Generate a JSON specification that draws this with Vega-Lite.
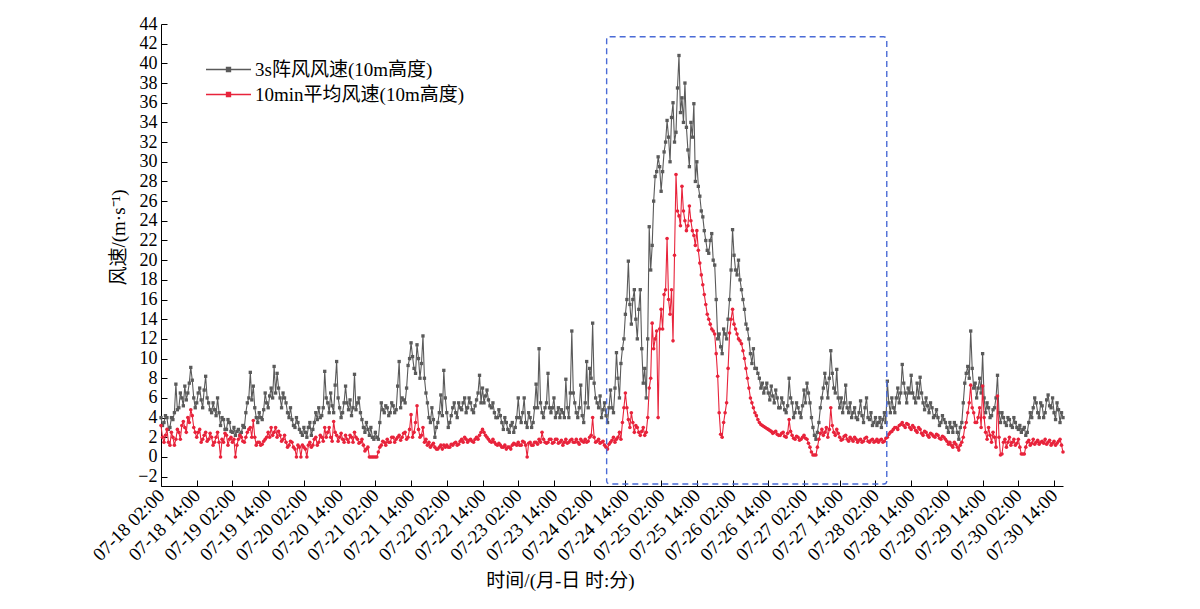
{
  "$schema": "https://vega.github.io/schema/vega-lite/v6.json",
  "width": 902,
  "height": 462,
  "autosize": "none",
  "padding": {"left": 161, "top": 24, "right": 137, "bottom": 123},
  "background": "white",
  "config": {
    "view": {"stroke": null},
    "font": "Liberation Serif, Noto Sans CJK SC",
    "axis": {"grid": false, "domainColor": "black", "tickColor": "black", "labelColor": "black", "titleColor": "black", "labelFont": "Liberation Serif, Noto Sans CJK SC", "titleFont": "Liberation Serif, Noto Sans CJK SC", "labelFontSize": 19, "titleFontSize": 19, "titleFontWeight": "normal", "domainWidth": 1, "tickWidth": 1, "labelOverlap": false, "labelFlush": false, "labelBound": false, "labelLimit": 0, "labelSeparation": 0},
    "axisY": {"labelOverlap": false, "labelFontSize": 18},
    "axisQuantitative": {"labelOverlap": false},
    "legend": {"labelFont": "Liberation Serif, Noto Sans CJK SC", "labelFontSize": 19, "labelColor": "black", "labelLimit": 0}
  },
  "datasets": {
    "ws": [
{"t":"2023-07-18T02:00","g":4.0,"m":3.2},{"t":"2023-07-18T03:00","g":3.5,"m":1.5},{"t":"2023-07-18T04:00","g":4.0,"m":2.8},{"t":"2023-07-18T05:00","g":3.0,"m":1.2},{"t":"2023-07-18T06:00","g":3.8,"m":2.0},{"t":"2023-07-18T07:00","g":7.4,"m":1.8},{"t":"2023-07-18T08:00","g":5.0,"m":2.5},{"t":"2023-07-18T09:00","g":6.0,"m":3.2},{"t":"2023-07-18T10:00","g":7.2,"m":3.0},{"t":"2023-07-18T11:00","g":6.5,"m":4.0},{"t":"2023-07-18T12:00","g":9.1,"m":4.8},{"t":"2023-07-18T13:00","g":6.0,"m":3.0},
{"t":"2023-07-18T14:00","g":5.5,"m":2.0},{"t":"2023-07-18T15:00","g":7.0,"m":2.8},{"t":"2023-07-18T16:00","g":5.0,"m":1.8},{"t":"2023-07-18T17:00","g":8.2,"m":2.5},{"t":"2023-07-18T18:00","g":5.5,"m":1.8},{"t":"2023-07-18T19:00","g":4.5,"m":2.0},{"t":"2023-07-18T20:00","g":4.8,"m":1.5},{"t":"2023-07-18T21:00","g":6.0,"m":2.5},{"t":"2023-07-18T22:00","g":3.2,"m":0.0},{"t":"2023-07-18T23:00","g":3.8,"m":1.5},
{"t":"2023-07-19T00:00","g":2.8,"m":2.2},{"t":"2023-07-19T01:00","g":3.5,"m":1.8},{"t":"2023-07-19T02:00","g":2.5,"m":1.5},{"t":"2023-07-19T03:00","g":2.2,"m":0.0},{"t":"2023-07-19T04:00","g":2.8,"m":1.8},{"t":"2023-07-19T05:00","g":2.5,"m":2.0},{"t":"2023-07-19T06:00","g":3.0,"m":1.5},{"t":"2023-07-19T07:00","g":5.5,"m":2.5},{"t":"2023-07-19T08:00","g":8.6,"m":3.0},{"t":"2023-07-19T09:00","g":7.2,"m":3.7},{"t":"2023-07-19T10:00","g":4.0,"m":1.2},{"t":"2023-07-19T11:00","g":4.5,"m":1.5},{"t":"2023-07-19T12:00","g":3.8,"m":1.3},{"t":"2023-07-19T13:00","g":6.5,"m":1.8},
{"t":"2023-07-19T14:00","g":5.0,"m":2.5},{"t":"2023-07-19T15:00","g":7.0,"m":3.0},{"t":"2023-07-19T16:00","g":9.2,"m":2.5},{"t":"2023-07-19T17:00","g":8.5,"m":2.0},{"t":"2023-07-19T18:00","g":6.0,"m":2.2},{"t":"2023-07-19T19:00","g":6.5,"m":1.8},{"t":"2023-07-19T20:00","g":5.5,"m":1.5},{"t":"2023-07-19T21:00","g":4.0,"m":1.2},{"t":"2023-07-19T22:00","g":3.8,"m":1.5},{"t":"2023-07-19T23:00","g":3.0,"m":0.8},
{"t":"2023-07-20T00:00","g":3.5,"m":1.2},{"t":"2023-07-20T01:00","g":2.5,"m":0.0},{"t":"2023-07-20T02:00","g":3.0,"m":1.0},{"t":"2023-07-20T03:00","g":2.0,"m":0.0},{"t":"2023-07-20T04:00","g":3.5,"m":1.5},{"t":"2023-07-20T05:00","g":2.8,"m":1.2},{"t":"2023-07-20T06:00","g":4.5,"m":2.0},{"t":"2023-07-20T07:00","g":5.0,"m":1.5},{"t":"2023-07-20T08:00","g":4.2,"m":2.0},{"t":"2023-07-20T09:00","g":8.7,"m":3.0},{"t":"2023-07-20T10:00","g":5.5,"m":2.5},{"t":"2023-07-20T11:00","g":6.5,"m":2.0},{"t":"2023-07-20T12:00","g":4.5,"m":3.6},{"t":"2023-07-20T13:00","g":9.7,"m":2.2},
{"t":"2023-07-20T14:00","g":5.0,"m":2.0},{"t":"2023-07-20T15:00","g":4.5,"m":1.8},{"t":"2023-07-20T16:00","g":7.2,"m":2.2},{"t":"2023-07-20T17:00","g":4.8,"m":1.5},{"t":"2023-07-20T18:00","g":4.2,"m":2.0},{"t":"2023-07-20T19:00","g":8.4,"m":2.5},{"t":"2023-07-20T20:00","g":5.5,"m":1.8},{"t":"2023-07-20T21:00","g":4.5,"m":1.5},{"t":"2023-07-20T22:00","g":3.0,"m":1.2},{"t":"2023-07-20T23:00","g":3.5,"m":0.8},
{"t":"2023-07-21T00:00","g":2.2,"m":0.0},{"t":"2023-07-21T01:00","g":2.0,"m":0.0},{"t":"2023-07-21T02:00","g":2.5,"m":0.0},{"t":"2023-07-21T03:00","g":1.8,"m":0.5},{"t":"2023-07-21T04:00","g":5.5,"m":1.2},{"t":"2023-07-21T05:00","g":4.5,"m":1.5},{"t":"2023-07-21T06:00","g":5.0,"m":1.8},{"t":"2023-07-21T07:00","g":4.5,"m":1.5},{"t":"2023-07-21T08:00","g":5.2,"m":2.0},{"t":"2023-07-21T09:00","g":4.8,"m":1.8},{"t":"2023-07-21T10:00","g":9.7,"m":2.2},{"t":"2023-07-21T11:00","g":6.0,"m":2.0},{"t":"2023-07-21T12:00","g":5.5,"m":2.5},{"t":"2023-07-21T13:00","g":9.3,"m":2.0},
{"t":"2023-07-21T14:00","g":11.6,"m":4.3},{"t":"2023-07-21T15:00","g":9.0,"m":2.5},{"t":"2023-07-21T16:00","g":11.4,"m":5.2},{"t":"2023-07-21T17:00","g":8.0,"m":2.0},{"t":"2023-07-21T18:00","g":12.3,"m":3.0},{"t":"2023-07-21T19:00","g":6.5,"m":1.8},{"t":"2023-07-21T20:00","g":4.0,"m":1.5},{"t":"2023-07-21T21:00","g":5.0,"m":1.2},{"t":"2023-07-21T22:00","g":2.0,"m":1.0},{"t":"2023-07-21T23:00","g":3.5,"m":0.8},
{"t":"2023-07-22T00:00","g":6.3,"m":1.2},{"t":"2023-07-22T01:00","g":8.8,"m":1.2},{"t":"2023-07-22T02:00","g":4.5,"m":1.2},{"t":"2023-07-22T03:00","g":3.5,"m":1.0},{"t":"2023-07-22T04:00","g":5.0,"m":1.2},{"t":"2023-07-22T05:00","g":4.5,"m":1.5},{"t":"2023-07-22T06:00","g":5.5,"m":1.3},{"t":"2023-07-22T07:00","g":4.8,"m":1.8},{"t":"2023-07-22T08:00","g":6.0,"m":2.0},{"t":"2023-07-22T09:00","g":5.0,"m":1.5},{"t":"2023-07-22T10:00","g":5.5,"m":1.8},{"t":"2023-07-22T11:00","g":4.5,"m":1.5},{"t":"2023-07-22T12:00","g":5.8,"m":2.0},{"t":"2023-07-22T13:00","g":8.3,"m":2.2},
{"t":"2023-07-22T14:00","g":7.0,"m":2.8},{"t":"2023-07-22T15:00","g":6.2,"m":2.2},{"t":"2023-07-22T16:00","g":5.8,"m":1.8},{"t":"2023-07-22T17:00","g":5.0,"m":1.5},{"t":"2023-07-22T18:00","g":4.5,"m":1.5},{"t":"2023-07-22T19:00","g":4.0,"m":1.2},{"t":"2023-07-22T20:00","g":4.2,"m":1.2},{"t":"2023-07-22T21:00","g":2.8,"m":1.0},{"t":"2023-07-22T22:00","g":3.5,"m":0.8},{"t":"2023-07-22T23:00","g":2.5,"m":1.0},
{"t":"2023-07-23T00:00","g":3.5,"m":1.2},{"t":"2023-07-23T01:00","g":3.0,"m":1.3},{"t":"2023-07-23T02:00","g":6.0,"m":1.5},{"t":"2023-07-23T03:00","g":3.5,"m":1.2},{"t":"2023-07-23T04:00","g":6.0,"m":1.5},{"t":"2023-07-23T05:00","g":3.0,"m":0.0},{"t":"2023-07-23T06:00","g":4.0,"m":1.5},{"t":"2023-07-23T07:00","g":3.5,"m":1.2},{"t":"2023-07-23T08:00","g":7.4,"m":1.5},{"t":"2023-07-23T09:00","g":11.0,"m":1.8},{"t":"2023-07-23T10:00","g":4.5,"m":2.5},{"t":"2023-07-23T11:00","g":5.0,"m":1.5},{"t":"2023-07-23T12:00","g":8.5,"m":1.5},{"t":"2023-07-23T13:00","g":4.5,"m":1.8},
{"t":"2023-07-23T14:00","g":6.0,"m":1.5},{"t":"2023-07-23T15:00","g":4.5,"m":1.8},{"t":"2023-07-23T16:00","g":4.0,"m":1.5},{"t":"2023-07-23T17:00","g":4.5,"m":1.2},{"t":"2023-07-23T18:00","g":7.9,"m":1.8},{"t":"2023-07-23T19:00","g":4.0,"m":1.5},{"t":"2023-07-23T20:00","g":12.8,"m":1.8},{"t":"2023-07-23T21:00","g":5.5,"m":1.5},{"t":"2023-07-23T22:00","g":4.0,"m":1.5},{"t":"2023-07-23T23:00","g":7.3,"m":1.8},
{"t":"2023-07-24T00:00","g":3.5,"m":1.5},{"t":"2023-07-24T01:00","g":9.7,"m":1.5},{"t":"2023-07-24T02:00","g":9.0,"m":2.0},{"t":"2023-07-24T03:00","g":13.6,"m":4.0},{"t":"2023-07-24T04:00","g":6.0,"m":1.5},{"t":"2023-07-24T05:00","g":5.0,"m":1.8},{"t":"2023-07-24T06:00","g":4.0,"m":1.5},{"t":"2023-07-24T07:00","g":5.5,"m":1.2},{"t":"2023-07-24T08:00","g":3.5,"m":0.8},{"t":"2023-07-24T09:00","g":6.8,"m":1.5},{"t":"2023-07-24T10:00","g":4.5,"m":2.0},{"t":"2023-07-24T11:00","g":10.6,"m":1.8},{"t":"2023-07-24T12:00","g":6.0,"m":2.5},{"t":"2023-07-24T13:00","g":11.0,"m":3.5},
{"t":"2023-07-24T14:00","g":14.5,"m":6.5},{"t":"2023-07-24T15:00","g":19.9,"m":3.8},{"t":"2023-07-24T16:00","g":13.5,"m":4.5},{"t":"2023-07-24T17:00","g":17.0,"m":2.5},{"t":"2023-07-24T18:00","g":12.0,"m":3.0},{"t":"2023-07-24T19:00","g":17.0,"m":2.2},{"t":"2023-07-24T20:00","g":7.5,"m":3.0},{"t":"2023-07-24T21:00","g":6.0,"m":2.5},{"t":"2023-07-24T22:00","g":23.4,"m":7.0},{"t":"2023-07-24T23:00","g":21.5,"m":13.6},
{"t":"2023-07-25T00:00","g":28.5,"m":12.0},{"t":"2023-07-25T01:00","g":30.5,"m":4.0},{"t":"2023-07-25T02:00","g":27.0,"m":15.0},{"t":"2023-07-25T03:00","g":31.0,"m":16.5},{"t":"2023-07-25T04:00","g":34.2,"m":22.2},{"t":"2023-07-25T05:00","g":30.0,"m":14.5},{"t":"2023-07-25T06:00","g":36.0,"m":11.8},{"t":"2023-07-25T07:00","g":33.0,"m":28.7},{"t":"2023-07-25T08:00","g":40.8,"m":24.5},{"t":"2023-07-25T09:00","g":36.5,"m":27.5},{"t":"2023-07-25T10:00","g":38.0,"m":24.0},{"t":"2023-07-25T11:00","g":31.2,"m":23.5},{"t":"2023-07-25T12:00","g":34.0,"m":24.0},{"t":"2023-07-25T13:00","g":35.9,"m":22.5},
{"t":"2023-07-25T14:00","g":30.0,"m":23.0},{"t":"2023-07-25T15:00","g":26.5,"m":19.7},{"t":"2023-07-25T16:00","g":24.4,"m":17.5},{"t":"2023-07-25T17:00","g":22.0,"m":15.5},{"t":"2023-07-25T18:00","g":20.7,"m":14.0},{"t":"2023-07-25T19:00","g":22.7,"m":13.0},{"t":"2023-07-25T20:00","g":19.5,"m":12.5},{"t":"2023-07-25T21:00","g":12.0,"m":8.2},{"t":"2023-07-25T22:00","g":11.2,"m":2.3},{"t":"2023-07-25T23:00","g":13.0,"m":3.5},
{"t":"2023-07-26T00:00","g":12.0,"m":5.5},{"t":"2023-07-26T01:00","g":16.0,"m":12.6},{"t":"2023-07-26T02:00","g":23.1,"m":15.0},{"t":"2023-07-26T03:00","g":19.0,"m":13.0},{"t":"2023-07-26T04:00","g":20.0,"m":12.0},{"t":"2023-07-26T05:00","g":17.0,"m":11.5},{"t":"2023-07-26T06:00","g":15.0,"m":10.0},{"t":"2023-07-26T07:00","g":13.0,"m":8.0},{"t":"2023-07-26T08:00","g":10.5,"m":6.0},{"t":"2023-07-26T09:00","g":11.0,"m":5.0},{"t":"2023-07-26T10:00","g":9.0,"m":4.2},{"t":"2023-07-26T11:00","g":8.0,"m":3.5},{"t":"2023-07-26T12:00","g":7.5,"m":3.2},{"t":"2023-07-26T13:00","g":7.0,"m":3.0},
{"t":"2023-07-26T14:00","g":6.5,"m":2.8},{"t":"2023-07-26T15:00","g":7.2,"m":2.6},{"t":"2023-07-26T16:00","g":5.5,"m":2.5},{"t":"2023-07-26T17:00","g":6.0,"m":2.3},{"t":"2023-07-26T18:00","g":5.0,"m":2.2},{"t":"2023-07-26T19:00","g":5.5,"m":2.5},{"t":"2023-07-26T20:00","g":4.5,"m":2.0},{"t":"2023-07-26T21:00","g":8.0,"m":3.8},{"t":"2023-07-26T22:00","g":5.5,"m":2.2},{"t":"2023-07-26T23:00","g":4.5,"m":1.8},
{"t":"2023-07-27T00:00","g":5.0,"m":2.0},{"t":"2023-07-27T01:00","g":4.0,"m":1.8},{"t":"2023-07-27T02:00","g":6.8,"m":2.2},{"t":"2023-07-27T03:00","g":7.5,"m":1.8},{"t":"2023-07-27T04:00","g":5.5,"m":1.0},{"t":"2023-07-27T05:00","g":3.0,"m":0.2},{"t":"2023-07-27T06:00","g":1.8,"m":0.2},{"t":"2023-07-27T07:00","g":3.5,"m":1.8},{"t":"2023-07-27T08:00","g":6.0,"m":2.8},{"t":"2023-07-27T09:00","g":8.5,"m":2.5},{"t":"2023-07-27T10:00","g":6.0,"m":2.0},{"t":"2023-07-27T11:00","g":10.8,"m":5.0},{"t":"2023-07-27T12:00","g":7.0,"m":2.5},{"t":"2023-07-27T13:00","g":8.9,"m":2.8},
{"t":"2023-07-27T14:00","g":5.0,"m":2.0},{"t":"2023-07-27T15:00","g":4.5,"m":1.8},{"t":"2023-07-27T16:00","g":7.3,"m":2.2},{"t":"2023-07-27T17:00","g":4.5,"m":1.6},{"t":"2023-07-27T18:00","g":4.0,"m":1.8},{"t":"2023-07-27T19:00","g":5.0,"m":2.0},{"t":"2023-07-27T20:00","g":3.8,"m":1.5},{"t":"2023-07-27T21:00","g":5.7,"m":1.8},{"t":"2023-07-27T22:00","g":3.5,"m":1.6},{"t":"2023-07-27T23:00","g":6.0,"m":2.0},
{"t":"2023-07-28T00:00","g":3.8,"m":1.5},{"t":"2023-07-28T01:00","g":3.2,"m":1.8},{"t":"2023-07-28T02:00","g":4.0,"m":1.6},{"t":"2023-07-28T03:00","g":3.5,"m":1.5},{"t":"2023-07-28T04:00","g":3.0,"m":1.8},{"t":"2023-07-28T05:00","g":4.5,"m":1.6},{"t":"2023-07-28T06:00","g":7.7,"m":2.0},{"t":"2023-07-28T07:00","g":4.5,"m":2.5},{"t":"2023-07-28T08:00","g":5.0,"m":2.8},{"t":"2023-07-28T09:00","g":6.0,"m":3.0},{"t":"2023-07-28T10:00","g":5.5,"m":3.2},{"t":"2023-07-28T11:00","g":9.4,"m":3.5},{"t":"2023-07-28T12:00","g":6.5,"m":3.0},{"t":"2023-07-28T13:00","g":7.0,"m":3.3},
{"t":"2023-07-28T14:00","g":8.3,"m":2.8},{"t":"2023-07-28T15:00","g":6.0,"m":3.0},{"t":"2023-07-28T16:00","g":7.5,"m":2.5},{"t":"2023-07-28T17:00","g":8.1,"m":2.8},{"t":"2023-07-28T18:00","g":5.5,"m":2.2},{"t":"2023-07-28T19:00","g":6.0,"m":2.5},{"t":"2023-07-28T20:00","g":4.5,"m":2.0},{"t":"2023-07-28T21:00","g":5.0,"m":2.3},{"t":"2023-07-28T22:00","g":4.2,"m":2.0},{"t":"2023-07-28T23:00","g":4.0,"m":2.2},
{"t":"2023-07-29T00:00","g":3.5,"m":1.8},{"t":"2023-07-29T01:00","g":3.8,"m":2.0},{"t":"2023-07-29T02:00","g":3.0,"m":1.6},{"t":"2023-07-29T03:00","g":3.5,"m":1.5},{"t":"2023-07-29T04:00","g":2.5,"m":1.0},{"t":"2023-07-29T05:00","g":3.2,"m":1.3},{"t":"2023-07-29T06:00","g":1.8,"m":0.7},{"t":"2023-07-29T07:00","g":3.5,"m":1.5},{"t":"2023-07-29T08:00","g":7.5,"m":3.0},{"t":"2023-07-29T09:00","g":9.2,"m":4.5},{"t":"2023-07-29T10:00","g":12.8,"m":7.3},{"t":"2023-07-29T11:00","g":7.0,"m":4.5},{"t":"2023-07-29T12:00","g":6.0,"m":3.5},{"t":"2023-07-29T13:00","g":8.0,"m":5.0},
{"t":"2023-07-29T14:00","g":10.5,"m":7.2},{"t":"2023-07-29T15:00","g":4.5,"m":2.5},{"t":"2023-07-29T16:00","g":5.0,"m":3.0},{"t":"2023-07-29T17:00","g":4.2,"m":1.5},{"t":"2023-07-29T18:00","g":5.0,"m":2.0},{"t":"2023-07-29T19:00","g":8.3,"m":6.2},{"t":"2023-07-29T20:00","g":3.5,"m":0.2},{"t":"2023-07-29T21:00","g":4.0,"m":1.5},{"t":"2023-07-29T22:00","g":3.2,"m":1.0},{"t":"2023-07-29T23:00","g":3.8,"m":2.0},
{"t":"2023-07-30T00:00","g":3.0,"m":1.5},{"t":"2023-07-30T01:00","g":3.5,"m":1.2},{"t":"2023-07-30T02:00","g":2.8,"m":1.8},{"t":"2023-07-30T03:00","g":2.5,"m":0.3},{"t":"2023-07-30T04:00","g":3.0,"m":0.3},{"t":"2023-07-30T05:00","g":2.5,"m":1.5},{"t":"2023-07-30T06:00","g":4.5,"m":1.2},{"t":"2023-07-30T07:00","g":5.0,"m":1.8},{"t":"2023-07-30T08:00","g":5.5,"m":1.5},{"t":"2023-07-30T09:00","g":4.0,"m":1.3},{"t":"2023-07-30T10:00","g":5.2,"m":1.6},{"t":"2023-07-30T11:00","g":4.5,"m":1.8},{"t":"2023-07-30T12:00","g":6.3,"m":1.5},{"t":"2023-07-30T13:00","g":5.0,"m":1.2},
{"t":"2023-07-30T14:00","g":4.5,"m":1.6},{"t":"2023-07-30T15:00","g":5.5,"m":1.4},{"t":"2023-07-30T16:00","g":3.5,"m":1.8},{"t":"2023-07-30T17:00","g":4.0,"m":0.5},
{"t":"2023-07-18T02:30","g":3.2,"m":2.0},{"t":"2023-07-18T03:30","g":4.2,"m":2.2},{"t":"2023-07-18T04:30","g":2.8,"m":1.5},{"t":"2023-07-18T05:30","g":4.0,"m":2.5},{"t":"2023-07-18T06:30","g":4.5,"m":1.2},{"t":"2023-07-18T07:30","g":4.8,"m":2.8},{"t":"2023-07-18T08:30","g":6.5,"m":1.8},{"t":"2023-07-18T09:30","g":5.2,"m":3.6},{"t":"2023-07-18T10:30","g":5.8,"m":2.5},{"t":"2023-07-18T11:30","g":7.5,"m":3.5},{"t":"2023-07-18T12:30","g":7.8,"m":4.2},{"t":"2023-07-18T13:30","g":5.0,"m":2.5},
{"t":"2023-07-18T14:30","g":6.5,"m":2.5},{"t":"2023-07-18T15:30","g":5.8,"m":1.5},{"t":"2023-07-18T16:30","g":6.8,"m":2.2},{"t":"2023-07-18T17:30","g":6.0,"m":1.6},{"t":"2023-07-18T18:30","g":4.8,"m":2.4},{"t":"2023-07-18T19:30","g":5.5,"m":1.2},{"t":"2023-07-18T20:30","g":4.2,"m":2.0},{"t":"2023-07-18T21:30","g":4.5,"m":1.5},{"t":"2023-07-18T22:30","g":4.0,"m":1.8},{"t":"2023-07-18T23:30","g":2.8,"m":2.4},
{"t":"2023-07-19T00:30","g":3.8,"m":1.2},{"t":"2023-07-19T01:30","g":2.6,"m":2.0},{"t":"2023-07-19T02:30","g":3.0,"m":1.8},{"t":"2023-07-19T03:30","g":2.6,"m":1.2},{"t":"2023-07-19T04:30","g":2.2,"m":2.2},{"t":"2023-07-19T05:30","g":3.2,"m":1.6},{"t":"2023-07-19T06:30","g":4.5,"m":2.0},{"t":"2023-07-19T07:30","g":6.0,"m":2.8},{"t":"2023-07-19T08:30","g":5.8,"m":2.0},{"t":"2023-07-19T09:30","g":5.0,"m":2.0},{"t":"2023-07-19T10:30","g":3.5,"m":1.5},{"t":"2023-07-19T11:30","g":4.0,"m":1.2},{"t":"2023-07-19T12:30","g":4.8,"m":1.6},{"t":"2023-07-19T13:30","g":5.5,"m":2.0},
{"t":"2023-07-19T14:30","g":6.2,"m":2.0},{"t":"2023-07-19T15:30","g":6.0,"m":2.2},{"t":"2023-07-19T16:30","g":6.5,"m":3.0},{"t":"2023-07-19T17:30","g":7.0,"m":2.6},{"t":"2023-07-19T18:30","g":5.0,"m":1.6},{"t":"2023-07-19T19:30","g":6.0,"m":2.2},{"t":"2023-07-19T20:30","g":4.5,"m":1.0},{"t":"2023-07-19T21:30","g":5.0,"m":1.6},{"t":"2023-07-19T22:30","g":3.2,"m":1.0},{"t":"2023-07-19T23:30","g":4.0,"m":0.0},
{"t":"2023-07-20T00:30","g":2.8,"m":1.0},{"t":"2023-07-20T01:30","g":2.2,"m":1.2},{"t":"2023-07-20T02:30","g":2.5,"m":0.8},{"t":"2023-07-20T03:30","g":3.0,"m":1.2},{"t":"2023-07-20T04:30","g":2.2,"m":1.0},{"t":"2023-07-20T05:30","g":3.5,"m":1.8},{"t":"2023-07-20T06:30","g":3.8,"m":1.2},{"t":"2023-07-20T07:30","g":4.0,"m":2.2},{"t":"2023-07-20T08:30","g":5.0,"m":1.6},{"t":"2023-07-20T09:30","g":6.0,"m":2.0},{"t":"2023-07-20T10:30","g":4.5,"m":3.0},{"t":"2023-07-20T11:30","g":5.2,"m":1.6},{"t":"2023-07-20T12:30","g":7.3,"m":2.5},{"t":"2023-07-20T13:30","g":6.0,"m":1.6},
{"t":"2023-07-20T14:30","g":4.0,"m":2.4},{"t":"2023-07-20T15:30","g":5.5,"m":1.5},{"t":"2023-07-20T16:30","g":5.5,"m":1.8},{"t":"2023-07-20T17:30","g":5.8,"m":2.2},{"t":"2023-07-20T18:30","g":5.0,"m":1.5},{"t":"2023-07-20T19:30","g":4.8,"m":2.0},{"t":"2023-07-20T20:30","g":6.0,"m":1.4},{"t":"2023-07-20T21:30","g":3.8,"m":1.8},{"t":"2023-07-20T22:30","g":2.5,"m":0.6},{"t":"2023-07-20T23:30","g":2.8,"m":1.0},
{"t":"2023-07-21T00:30","g":3.0,"m":0.0},{"t":"2023-07-21T01:30","g":1.8,"m":0.0},{"t":"2023-07-21T02:30","g":2.0,"m":0.0},{"t":"2023-07-21T03:30","g":3.5,"m":1.0},{"t":"2023-07-21T04:30","g":4.8,"m":1.6},{"t":"2023-07-21T05:30","g":5.2,"m":1.2},{"t":"2023-07-21T06:30","g":4.2,"m":1.5},{"t":"2023-07-21T07:30","g":5.5,"m":2.0},{"t":"2023-07-21T08:30","g":4.5,"m":1.5},{"t":"2023-07-21T09:30","g":7.2,"m":2.0},{"t":"2023-07-21T10:30","g":5.0,"m":1.7},{"t":"2023-07-21T11:30","g":5.8,"m":2.4},{"t":"2023-07-21T12:30","g":7.0,"m":1.8},{"t":"2023-07-21T13:30","g":10.0,"m":2.8},
{"t":"2023-07-21T14:30","g":10.2,"m":2.0},{"t":"2023-07-21T15:30","g":8.5,"m":3.5},{"t":"2023-07-21T16:30","g":10.0,"m":2.8},{"t":"2023-07-21T17:30","g":9.5,"m":2.2},{"t":"2023-07-21T18:30","g":8.0,"m":1.5},{"t":"2023-07-21T19:30","g":5.5,"m":1.2},{"t":"2023-07-21T20:30","g":3.5,"m":1.0},{"t":"2023-07-21T21:30","g":3.8,"m":1.4},{"t":"2023-07-21T22:30","g":3.0,"m":0.8},{"t":"2023-07-21T23:30","g":4.5,"m":1.0},
{"t":"2023-07-22T00:30","g":4.2,"m":0.8},{"t":"2023-07-22T01:30","g":6.0,"m":1.0},{"t":"2023-07-22T02:30","g":3.0,"m":1.0},{"t":"2023-07-22T03:30","g":4.2,"m":1.3},{"t":"2023-07-22T04:30","g":5.5,"m":1.4},{"t":"2023-07-22T05:30","g":4.0,"m":1.2},{"t":"2023-07-22T06:30","g":5.0,"m":1.6},{"t":"2023-07-22T07:30","g":5.5,"m":1.5},{"t":"2023-07-22T08:30","g":4.5,"m":1.8},{"t":"2023-07-22T09:30","g":6.0,"m":1.7},{"t":"2023-07-22T10:30","g":4.8,"m":1.6},{"t":"2023-07-22T11:30","g":5.2,"m":1.8},{"t":"2023-07-22T12:30","g":6.5,"m":1.8},{"t":"2023-07-22T13:30","g":5.5,"m":2.5},
{"t":"2023-07-22T14:30","g":5.5,"m":2.5},{"t":"2023-07-22T15:30","g":6.8,"m":2.0},{"t":"2023-07-22T16:30","g":5.2,"m":1.6},{"t":"2023-07-22T17:30","g":5.5,"m":1.8},{"t":"2023-07-22T18:30","g":4.0,"m":1.3},{"t":"2023-07-22T19:30","g":4.8,"m":1.4},{"t":"2023-07-22T20:30","g":3.5,"m":1.0},{"t":"2023-07-22T21:30","g":4.0,"m":1.2},{"t":"2023-07-22T22:30","g":2.8,"m":1.0},{"t":"2023-07-22T23:30","g":3.2,"m":0.8},
{"t":"2023-07-23T00:30","g":2.5,"m":1.4},{"t":"2023-07-23T01:30","g":4.0,"m":1.2},{"t":"2023-07-23T02:30","g":4.0,"m":1.2},{"t":"2023-07-23T03:30","g":4.5,"m":1.6},{"t":"2023-07-23T04:30","g":3.5,"m":1.2},{"t":"2023-07-23T05:30","g":4.5,"m":1.4},{"t":"2023-07-23T06:30","g":3.0,"m":1.2},{"t":"2023-07-23T07:30","g":5.0,"m":1.5},{"t":"2023-07-23T08:30","g":5.0,"m":1.3},{"t":"2023-07-23T09:30","g":5.5,"m":1.5},{"t":"2023-07-23T10:30","g":4.0,"m":1.8},{"t":"2023-07-23T11:30","g":5.5,"m":1.4},{"t":"2023-07-23T12:30","g":5.0,"m":1.8},{"t":"2023-07-23T13:30","g":5.0,"m":1.4},
{"t":"2023-07-23T14:30","g":4.0,"m":1.8},{"t":"2023-07-23T15:30","g":5.0,"m":1.4},{"t":"2023-07-23T16:30","g":4.8,"m":1.7},{"t":"2023-07-23T17:30","g":4.0,"m":1.5},{"t":"2023-07-23T18:30","g":5.0,"m":1.4},{"t":"2023-07-23T19:30","g":6.5,"m":1.7},{"t":"2023-07-23T20:30","g":6.5,"m":1.5},{"t":"2023-07-23T21:30","g":4.5,"m":1.8},{"t":"2023-07-23T22:30","g":5.0,"m":1.3},{"t":"2023-07-23T23:30","g":4.2,"m":1.6},
{"t":"2023-07-24T00:30","g":5.5,"m":1.8},{"t":"2023-07-24T01:30","g":5.0,"m":1.6},{"t":"2023-07-24T02:30","g":8.0,"m":2.2},{"t":"2023-07-24T03:30","g":7.5,"m":2.0},{"t":"2023-07-24T04:30","g":5.5,"m":1.6},{"t":"2023-07-24T05:30","g":6.2,"m":1.4},{"t":"2023-07-24T06:30","g":4.8,"m":1.6},{"t":"2023-07-24T07:30","g":4.2,"m":1.0},{"t":"2023-07-24T08:30","g":5.0,"m":1.3},{"t":"2023-07-24T09:30","g":5.0,"m":1.7},{"t":"2023-07-24T10:30","g":7.0,"m":1.5},{"t":"2023-07-24T11:30","g":8.0,"m":2.0},{"t":"2023-07-24T12:30","g":9.5,"m":1.8},{"t":"2023-07-24T13:30","g":12.0,"m":5.0},
{"t":"2023-07-24T14:30","g":16.0,"m":5.0},{"t":"2023-07-24T15:30","g":15.5,"m":3.0},{"t":"2023-07-24T16:30","g":16.0,"m":3.5},{"t":"2023-07-24T17:30","g":14.0,"m":3.2},{"t":"2023-07-24T18:30","g":15.0,"m":2.5},{"t":"2023-07-24T19:30","g":11.0,"m":2.6},{"t":"2023-07-24T20:30","g":9.0,"m":2.2},{"t":"2023-07-24T21:30","g":12.0,"m":4.0},{"t":"2023-07-24T22:30","g":19.0,"m":8.0},{"t":"2023-07-24T23:30","g":26.0,"m":11.0},
{"t":"2023-07-25T00:30","g":29.0,"m":12.8},{"t":"2023-07-25T01:30","g":29.5,"m":13.0},{"t":"2023-07-25T02:30","g":29.0,"m":13.0},{"t":"2023-07-25T03:30","g":32.0,"m":17.0},{"t":"2023-07-25T04:30","g":32.5,"m":16.0},{"t":"2023-07-25T05:30","g":34.5,"m":17.0},{"t":"2023-07-25T06:30","g":32.0,"m":20.5},{"t":"2023-07-25T07:30","g":37.5,"m":25.0},{"t":"2023-07-25T08:30","g":35.0,"m":23.5},{"t":"2023-07-25T09:30","g":34.0,"m":25.0},{"t":"2023-07-25T10:30","g":33.5,"m":23.0},{"t":"2023-07-25T11:30","g":29.5,"m":25.5},{"t":"2023-07-25T12:30","g":32.5,"m":23.0},{"t":"2023-07-25T13:30","g":28.0,"m":21.5},
{"t":"2023-07-25T14:30","g":27.5,"m":21.0},{"t":"2023-07-25T15:30","g":25.0,"m":18.5},{"t":"2023-07-25T16:30","g":23.0,"m":16.5},{"t":"2023-07-25T17:30","g":21.0,"m":14.5},{"t":"2023-07-25T18:30","g":22.0,"m":13.5},{"t":"2023-07-25T19:30","g":20.0,"m":12.8},{"t":"2023-07-25T20:30","g":16.0,"m":10.5},{"t":"2023-07-25T21:30","g":12.5,"m":4.5},{"t":"2023-07-25T22:30","g":10.5,"m":2.0},{"t":"2023-07-25T23:30","g":12.5,"m":4.5},
{"t":"2023-07-26T00:30","g":14.0,"m":9.0},{"t":"2023-07-26T01:30","g":19.0,"m":14.0},{"t":"2023-07-26T02:30","g":20.5,"m":13.5},{"t":"2023-07-26T03:30","g":18.5,"m":12.5},{"t":"2023-07-26T04:30","g":18.0,"m":11.8},{"t":"2023-07-26T05:30","g":16.0,"m":10.8},{"t":"2023-07-26T06:30","g":13.5,"m":9.0},{"t":"2023-07-26T07:30","g":12.0,"m":7.0},{"t":"2023-07-26T08:30","g":9.5,"m":5.5},{"t":"2023-07-26T09:30","g":9.0,"m":4.5},{"t":"2023-07-26T10:30","g":8.5,"m":3.8},{"t":"2023-07-26T11:30","g":7.0,"m":3.3},{"t":"2023-07-26T12:30","g":6.5,"m":3.1},{"t":"2023-07-26T13:30","g":7.5,"m":2.9},
{"t":"2023-07-26T14:30","g":5.8,"m":2.7},{"t":"2023-07-26T15:30","g":6.2,"m":2.4},{"t":"2023-07-26T16:30","g":6.8,"m":2.6},{"t":"2023-07-26T17:30","g":5.0,"m":2.2},{"t":"2023-07-26T18:30","g":6.0,"m":2.4},{"t":"2023-07-26T19:30","g":4.8,"m":2.1},{"t":"2023-07-26T20:30","g":5.2,"m":2.4},{"t":"2023-07-26T21:30","g":6.0,"m":2.6},{"t":"2023-07-26T22:30","g":4.0,"m":1.9},{"t":"2023-07-26T23:30","g":5.5,"m":2.1},
{"t":"2023-07-27T00:30","g":4.5,"m":1.7},{"t":"2023-07-27T01:30","g":5.2,"m":2.0},{"t":"2023-07-27T02:30","g":5.5,"m":1.9},{"t":"2023-07-27T03:30","g":6.5,"m":1.4},{"t":"2023-07-27T04:30","g":4.0,"m":0.5},{"t":"2023-07-27T05:30","g":2.2,"m":0.2},{"t":"2023-07-27T06:30","g":2.5,"m":1.0},{"t":"2023-07-27T07:30","g":5.0,"m":2.4},{"t":"2023-07-27T08:30","g":7.0,"m":2.2},{"t":"2023-07-27T09:30","g":7.5,"m":3.0},{"t":"2023-07-27T10:30","g":8.0,"m":2.8},{"t":"2023-07-27T11:30","g":8.5,"m":3.2},{"t":"2023-07-27T12:30","g":6.5,"m":2.2},{"t":"2023-07-27T13:30","g":6.0,"m":2.4},
{"t":"2023-07-27T14:30","g":6.0,"m":1.7},{"t":"2023-07-27T15:30","g":5.5,"m":2.1},{"t":"2023-07-27T16:30","g":5.0,"m":1.8},{"t":"2023-07-27T17:30","g":5.5,"m":2.0},{"t":"2023-07-27T18:30","g":4.5,"m":1.6},{"t":"2023-07-27T19:30","g":4.0,"m":1.8},{"t":"2023-07-27T20:30","g":4.5,"m":1.7},{"t":"2023-07-27T21:30","g":4.2,"m":1.5},{"t":"2023-07-27T22:30","g":5.0,"m":1.9},{"t":"2023-07-27T23:30","g":4.0,"m":1.6},
{"t":"2023-07-28T00:30","g":4.5,"m":1.7},{"t":"2023-07-28T01:30","g":3.5,"m":1.5},{"t":"2023-07-28T02:30","g":3.2,"m":1.8},{"t":"2023-07-28T03:30","g":4.0,"m":1.7},{"t":"2023-07-28T04:30","g":3.8,"m":1.5},{"t":"2023-07-28T05:30","g":3.5,"m":1.9},{"t":"2023-07-28T06:30","g":5.5,"m":2.3},{"t":"2023-07-28T07:30","g":6.0,"m":2.6},{"t":"2023-07-28T08:30","g":4.5,"m":3.0},{"t":"2023-07-28T09:30","g":7.0,"m":2.8},{"t":"2023-07-28T10:30","g":6.5,"m":3.3},{"t":"2023-07-28T11:30","g":7.5,"m":3.2},{"t":"2023-07-28T12:30","g":5.5,"m":3.4},{"t":"2023-07-28T13:30","g":6.5,"m":3.0},
{"t":"2023-07-28T14:30","g":6.5,"m":3.2},{"t":"2023-07-28T15:30","g":5.5,"m":2.7},{"t":"2023-07-28T16:30","g":6.0,"m":3.0},{"t":"2023-07-28T17:30","g":6.5,"m":2.4},{"t":"2023-07-28T18:30","g":4.8,"m":2.6},{"t":"2023-07-28T19:30","g":5.2,"m":2.2},{"t":"2023-07-28T20:30","g":5.5,"m":2.4},{"t":"2023-07-28T21:30","g":4.0,"m":2.1},{"t":"2023-07-28T22:30","g":4.8,"m":2.3},{"t":"2023-07-28T23:30","g":3.2,"m":1.9},
{"t":"2023-07-29T00:30","g":4.2,"m":2.1},{"t":"2023-07-29T01:30","g":3.5,"m":1.8},{"t":"2023-07-29T02:30","g":2.5,"m":1.3},{"t":"2023-07-29T03:30","g":3.0,"m":1.2},{"t":"2023-07-29T04:30","g":3.5,"m":1.5},{"t":"2023-07-29T05:30","g":2.5,"m":1.0},{"t":"2023-07-29T06:30","g":3.0,"m":1.2},{"t":"2023-07-29T07:30","g":5.5,"m":2.0},{"t":"2023-07-29T08:30","g":8.5,"m":3.5},{"t":"2023-07-29T09:30","g":8.0,"m":5.5},{"t":"2023-07-29T10:30","g":9.0,"m":5.0},{"t":"2023-07-29T11:30","g":7.5,"m":3.5},{"t":"2023-07-29T12:30","g":7.0,"m":4.0},{"t":"2023-07-29T13:30","g":6.5,"m":3.0},
{"t":"2023-07-29T14:30","g":6.0,"m":4.0},{"t":"2023-07-29T15:30","g":5.5,"m":1.8},{"t":"2023-07-29T16:30","g":4.0,"m":2.2},{"t":"2023-07-29T17:30","g":4.8,"m":2.5},{"t":"2023-07-29T18:30","g":6.0,"m":1.0},{"t":"2023-07-29T19:30","g":4.5,"m":2.0},{"t":"2023-07-29T20:30","g":4.5,"m":0.3},{"t":"2023-07-29T21:30","g":3.5,"m":1.8},{"t":"2023-07-29T22:30","g":4.0,"m":1.5},{"t":"2023-07-29T23:30","g":3.2,"m":1.2},
{"t":"2023-07-30T00:30","g":4.0,"m":1.8},{"t":"2023-07-30T01:30","g":3.0,"m":1.4},{"t":"2023-07-30T02:30","g":3.2,"m":1.0},{"t":"2023-07-30T03:30","g":2.8,"m":0.3},{"t":"2023-07-30T04:30","g":2.2,"m":1.0},{"t":"2023-07-30T05:30","g":3.5,"m":1.7},{"t":"2023-07-30T06:30","g":4.0,"m":1.4},{"t":"2023-07-30T07:30","g":6.0,"m":1.3},{"t":"2023-07-30T08:30","g":4.5,"m":1.7},{"t":"2023-07-30T09:30","g":5.5,"m":1.5},{"t":"2023-07-30T10:30","g":4.0,"m":1.4},{"t":"2023-07-30T11:30","g":5.8,"m":1.3},{"t":"2023-07-30T12:30","g":5.2,"m":1.7},{"t":"2023-07-30T13:30","g":6.0,"m":1.4},
{"t":"2023-07-30T14:30","g":3.8,"m":1.2},{"t":"2023-07-30T15:30","g":4.8,"m":1.6},{"t":"2023-07-30T16:30","g":4.5,"m":1.2}
    ],
    "box": [{"x1":"2023-07-24T07:42","x2":"2023-07-28T05:48","y1":-2.75,"y2":42.7}]
  },
  "data": {"name": "ws"},
  "encoding": {
    "x": {
      "field": "t", "type": "temporal",
      "scale": {"domain": [{"year":2023,"month":7,"date":18,"hours":2}, {"year":2023,"month":7,"date":30,"hours":17}], "nice": false},
      "axis": {
        "values": [
          {"year":2023,"month":7,"date":18,"hours":2},{"year":2023,"month":7,"date":18,"hours":14},
          {"year":2023,"month":7,"date":19,"hours":2},{"year":2023,"month":7,"date":19,"hours":14},
          {"year":2023,"month":7,"date":20,"hours":2},{"year":2023,"month":7,"date":20,"hours":14},
          {"year":2023,"month":7,"date":21,"hours":2},{"year":2023,"month":7,"date":21,"hours":14},
          {"year":2023,"month":7,"date":22,"hours":2},{"year":2023,"month":7,"date":22,"hours":14},
          {"year":2023,"month":7,"date":23,"hours":2},{"year":2023,"month":7,"date":23,"hours":14},
          {"year":2023,"month":7,"date":24,"hours":2},{"year":2023,"month":7,"date":24,"hours":14},
          {"year":2023,"month":7,"date":25,"hours":2},{"year":2023,"month":7,"date":25,"hours":14},
          {"year":2023,"month":7,"date":26,"hours":2},{"year":2023,"month":7,"date":26,"hours":14},
          {"year":2023,"month":7,"date":27,"hours":2},{"year":2023,"month":7,"date":27,"hours":14},
          {"year":2023,"month":7,"date":28,"hours":2},{"year":2023,"month":7,"date":28,"hours":14},
          {"year":2023,"month":7,"date":29,"hours":2},{"year":2023,"month":7,"date":29,"hours":14},
          {"year":2023,"month":7,"date":30,"hours":2},{"year":2023,"month":7,"date":30,"hours":14}
        ],
        "format": "%m-%d %H:%M",
        "labelAngle": -45,
        "labelAlign": "right",
        "labelBaseline": "middle",
        "labelOverlap": false,
        "tickSize": -6,
        "labelPadding": 12,
        "title": "时间/(月-日 时:分)",
        "titleX": 399,
        "titleY": 94,
        "titleBaseline": "middle"
      }
    },
    "y": {"field": "g", "type": "quantitative",
      "scale": {"domain": [-2.95, 44], "nice": false, "zero": false},
      "axis": {"values": [-2,0,2,4,6,8,10,12,14,16,18,20,22,24,26,28,30,32,34,36,38,40,42,44], "labelOverlap": false, "labelFlush": false, "labelSeparation": 0, "tickSize": -6, "labelPadding": 10, "title": "风速/(m·s⁻¹)", "titleX": -43, "titleY": 213, "titleBaseline": "middle", "titleAngle": -90}}
  },
  "layer": [
    {
      "mark": {"type": "line", "strokeWidth": 1.1, "point": {"shape": "square", "size": 11, "filled": true}},
      "encoding": {
        "color": {"datum": "3s阵风风速(10m高度)", "type": "nominal",
          "scale": {"domain": ["3s阵风风速(10m高度)", "10min平均风速(10m高度)"], "range": ["#5a5a5a", "#e8233b"]},
          "legend": {"title": null, "orient": "none", "legendX": 44, "legendY": 33, "symbolType": "M-1,0H1M-0.09,-0.09H0.09V0.09H-0.09Z", "symbolSize": 2025, "symbolStrokeWidth": 1.3, "labelOffset": 3, "rowPadding": 0, "clipHeight": 25}}
      }
    },
    {
      "mark": {"type": "line", "strokeWidth": 1.1, "point": {"shape": "circle", "size": 13, "filled": true}},
      "encoding": {
        "y": {"field": "m", "type": "quantitative",
          "scale": {"domain": [-2.95, 44], "nice": false, "zero": false},
          "axis": {"values": [-2,0,2,4,6,8,10,12,14,16,18,20,22,24,26,28,30,32,34,36,38,40,42,44], "labelOverlap": false, "labelFlush": false, "labelSeparation": 0, "tickSize": -6, "labelPadding": 10, "title": "风速/(m·s⁻¹)", "titleX": -43, "titleY": 213, "titleBaseline": "middle", "titleAngle": -90}},
        "color": {"datum": "10min平均风速(10m高度)", "type": "nominal"}
      }
    },
    {
      "data": {"name": "box"},
      "mark": {"type": "rect", "fill": null, "fillOpacity": 0, "stroke": "#4a6bd6", "strokeWidth": 1.4, "strokeDash": [6, 4], "cornerRadius": 3},
      "encoding": {
        "x": {"field": "x1", "type": "temporal"},
        "x2": {"field": "x2"},
        "y": {"field": "y1", "type": "quantitative",
          "scale": {"domain": [-2.95, 44], "nice": false, "zero": false},
          "axis": {"values": [-2,0,2,4,6,8,10,12,14,16,18,20,22,24,26,28,30,32,34,36,38,40,42,44], "labelOverlap": false, "labelFlush": false, "labelSeparation": 0, "tickSize": -6, "labelPadding": 10, "title": "风速/(m·s⁻¹)", "titleX": -43, "titleY": 213, "titleBaseline": "middle", "titleAngle": -90}},
        "y2": {"field": "y2"}
      }
    }
  ]
}
